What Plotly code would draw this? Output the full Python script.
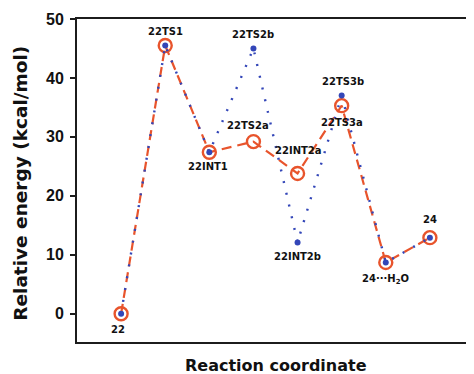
import plotly.graph_objects as go

# ---- data ----
stations = ["22", "22TS1", "22INT1", "22TS2", "22INT2", "22TS3", "24···H2O", "24"]
path_a_energy = [0.0, 45.5, 27.4, 29.2, 23.8, 35.3, 8.7, 12.9]
path_b_energy = [0.0, 45.5, 27.4, 45.0, 12.1, 37.0, 8.7, 12.9]
path_a_labels = ["22", "22TS1", "22INT1", "22TS2a", "22INT2a", "22TS3a",
                 "24···H<sub>2</sub>O", "24"]
path_b_labels = [None, None, None, "22TS2b", "22INT2b", "22TS3b", None, None]
y_ticks = [0, 10, 20, 30, 40, 50]

# ---- style ----
ORANGE = "#E8542C"
BLUE = "#3346B8"
AXIS = "#1c1c1c"
TITLE_FONT = "DejaVu Sans"
# label offsets (pixels): (xshift, yshift)
a_label_shift = [(-3, -16), (0, 14), (-1, -14), (-5, 16), (1, 23), (0, -17), (0, -17), (0, 18)]
b_label_shift = [None, None, None, (0, 14), (0, -14), (1, 14), None, None]

xs = list(range(len(stations)))

fig = go.Figure()
fig.add_trace(go.Scatter(
    x=xs, y=path_a_energy, mode="lines+markers",
    line=dict(color=ORANGE, width=2.2, dash="10px,6px"),
    marker=dict(symbol="circle-open", size=13, color=ORANGE, line=dict(width=2.4, color=ORANGE)),
    showlegend=False, hoverinfo="skip"))
fig.add_trace(go.Scatter(
    x=xs, y=path_b_energy, mode="lines+markers",
    line=dict(color=BLUE, width=2.4, dash="2px,10px"),
    marker=dict(symbol="circle", size=6, color=BLUE),
    showlegend=False, hoverinfo="skip"))

annotations = []
for i, (lab, sh) in enumerate(zip(path_a_labels, a_label_shift)):
    annotations.append(dict(x=xs[i], y=path_a_energy[i], xref="x", yref="y", text=lab,
                            showarrow=False, xshift=sh[0], yshift=sh[1],
                            font=dict(family=TITLE_FONT, size=10, color="#111", weight="bold")))
for i, (lab, sh) in enumerate(zip(path_b_labels, b_label_shift)):
    if lab is None:
        continue
    annotations.append(dict(x=xs[i], y=path_b_energy[i], xref="x", yref="y", text=lab,
                            showarrow=False, xshift=sh[0], yshift=sh[1],
                            font=dict(family=TITLE_FONT, size=10, color="#111", weight="bold")))

# plot area is 397 x 323 px
annotations.append(dict(x=-0.141, y=0.49, xref="paper", yref="paper",
                        text="Relative energy (kcal/mol)", textangle=-90, showarrow=False,
                        xanchor="center", yanchor="middle",
                        font=dict(family=TITLE_FONT, size=18.5, color="#111", weight="bold")))
annotations.append(dict(x=0.5, y=-0.074, xref="paper", yref="paper",
                        text="Reaction coordinate", showarrow=False,
                        xanchor="center", yanchor="middle",
                        font=dict(family=TITLE_FONT, size=16, color="#111", weight="bold")))

# the page body adds an 8px offset, so the figure is 8px smaller and margins shifted
fig.update_layout(
    width=466, height=366,
    margin=dict(l=69, r=0, t=11, b=32),
    paper_bgcolor="white", plot_bgcolor="white",
    annotations=annotations,
    xaxis=dict(range=[-1, 8], showgrid=False, zeroline=False, showticklabels=False,
               ticks="", showline=True, mirror=True, linecolor=AXIS, linewidth=2),
    yaxis=dict(range=[-4.8, 50], tickvals=y_ticks, showgrid=False, zeroline=False,
               ticks="outside", ticklen=5, tickwidth=2, tickcolor=AXIS,
               showline=True, linecolor=AXIS, linewidth=2, ticklabelstandoff=3,
               tickfont=dict(family="Liberation Sans", size=16, color="#111", weight="bold")),
)

fig.write_html("out.html")
